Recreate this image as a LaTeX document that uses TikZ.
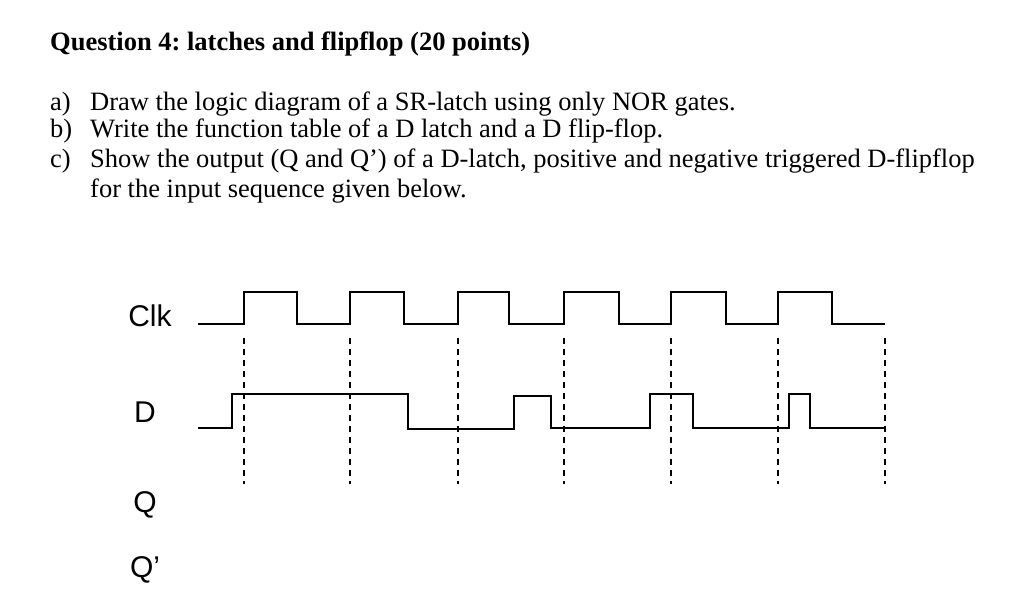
\documentclass[tikz,border=0pt]{standalone}
\usepackage{fontspec}
\setmainfont{Liberation Serif}
\newfontfamily\arialf{Liberation Sans}
\frenchspacing
\begin{document}
\begin{tikzpicture}[x=1pt,y=-1pt,
  wave/.style={line width=1.6pt},
  guide/.style={dashed,line width=1.2pt,dash pattern=on 6pt off 5pt},
  txt/.style={anchor=base west,inner sep=0pt,font=\fontsize{26.5}{30}\selectfont},
  lab/.style={inner sep=0pt,font=\arialf\fontsize{30}{33}\selectfont}]
\useasboundingbox (0,0) rectangle (1024,600);
\node[txt,font=\bfseries\fontsize{26.5}{30}\selectfont] (title) at (50,50) {Question 4: latches and flipflop (20 points)};
\node[txt] (am) at (50,110) {a)};
\node[txt] (a) at (90,110) {Draw the logic diagram of a SR-latch using only NOR gates.};
\node[txt] (bm) at (50,137) {b)};
\node[txt] (b) at (90,137) {Write the function table of a D latch and a D flip-flop.};
\node[txt] (cm) at (50,167) {c)};
\node[txt] (c) at (90,167) {Show the output (Q and Q’) of a D-latch, positive and negative triggered D-flipflop};
\node[txt] (c2) at (90,197) {for the input sequence given below.};
\node[lab] (clk) at (150,316) {Clk};
\node[lab] (d) at (145,412) {D};
\node[lab] (q) at (145,505) {Q};
\node[lab] (qp) at (145,570) {Q’};
\foreach \x in {244,350,458,564,671,778,885} \draw[guide] (\x,338) -- (\x,484);
\draw[wave] (198,324) -- (244,324) -- (244,292) -- (297,292) -- (297,324)
 -- (350,324) -- (350,292) -- (404,292) -- (404,324)
 -- (458,324) -- (458,292) -- (509,292) -- (509,324)
 -- (564,324) -- (564,292) -- (619,292) -- (619,324)
 -- (671,324) -- (671,292) -- (726,292) -- (726,324)
 -- (778,324) -- (778,292) -- (832,292) -- (832,324) -- (885,324);
\draw[wave] (198,428) -- (232,428) -- (232,394) -- (408,394) -- (408,429)
 -- (514,429) -- (514,396) -- (551,396) -- (551,428)
 -- (650,428) -- (650,394) -- (693,394) -- (693,428)
 -- (789,428) -- (789,394) -- (810,394) -- (810,428) -- (885,428);
\end{tikzpicture}
\end{document}
